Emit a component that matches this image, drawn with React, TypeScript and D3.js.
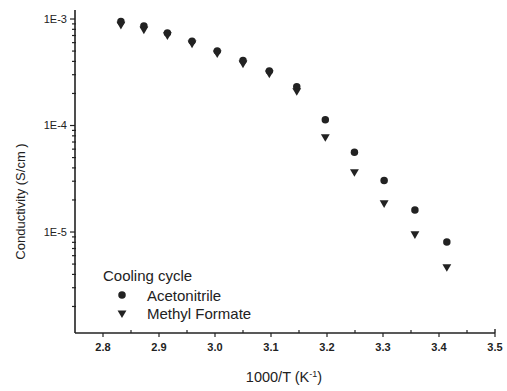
import React from 'react';
import * as d3 from 'd3';

// 1000/T values (K^-1)
const invTemp = [2.832, 2.873, 2.915, 2.959, 3.004, 3.05, 3.097, 3.146, 3.197, 3.249, 3.302, 3.357, 3.414];
// conductivity (S/cm), cooling cycle
const acetonitrile = [9.5e-4, 8.6e-4, 7.4e-4, 6.2e-4, 5.0e-4, 4.07e-4, 3.25e-4, 2.31e-4, 1.13e-4, 5.6e-5, 3.05e-5, 1.61e-5, 8.05e-6];
const methylFormate = [8.9e-4, 8.05e-4, 7.1e-4, 5.95e-4, 4.8e-4, 3.86e-4, 3.1e-4, 2.12e-4, 7.85e-5, 3.68e-5, 1.88e-5, 9.6e-6, 4.72e-6];
const xTicks = [2.8, 2.9, 3.0, 3.1, 3.2, 3.3, 3.4, 3.5];
const xMinorTicks = [2.85, 2.95, 3.05, 3.15, 3.25, 3.35, 3.45];
const yTicks = [1e-3, 1e-4, 1e-5];
const yTickLabels = ['1E-3', '1E-4', '1E-5'];

const W = 507;
const H = 391;
const margin = {top: 10, right: 12, bottom: 58, left: 75};
const ink = '#222';
const font = 'Liberation Sans, Arial, sans-serif';

const App: React.FC = () => {
  const x = d3.scaleLinear().domain([2.75, 3.5]).range([margin.left, W - margin.right]);
  const y = d3.scaleLog().domain([1.127e-6, 1.215e-3]).range([H - margin.bottom, margin.top]);

  const circle = d3.symbol(d3.symbolCircle, 44)();
  const tri = d3.symbol(d3.symbolTriangle, 34)();

  // minor log ticks 2..9 for each decade inside domain
  const yMinor: number[] = [];
  [-6, -5, -4, -3].forEach((e) => {
    for (let m = 2; m <= 9; m++) {
      const v = m * Math.pow(10, e);
      const [lo, hi] = y.domain();
      if (v > lo && v < hi) yMinor.push(v);
    }
  });

  const x0 = margin.left;
  const yBase = H - margin.bottom;

  return (
    <svg width={W} height={H} style={{position: 'absolute', left: 0, top: 0, background: '#fff'}} fontFamily={font}>
      {/* axes */}
      <line x1={x0} x2={x0} y1={margin.top} y2={yBase} stroke={ink} strokeWidth={1.6} />
      <line x1={x0} x2={W - margin.right} y1={yBase} y2={yBase} stroke={ink} strokeWidth={1.6} />
      <line x1={W - margin.right} x2={W - margin.right} y1={yBase} y2={yBase - 4} stroke={ink} strokeWidth={1.4} />

      {xTicks.map((t) => (
        <g key={t} transform={`translate(${x(t)},${yBase})`}>
          <line y1={0} y2={4} stroke={ink} strokeWidth={1.2} />
          <text y={18} textAnchor='middle' fontSize={11} fontWeight='bold' fill={ink}>
            {t.toFixed(1)}
          </text>
        </g>
      ))}
      {xMinorTicks.map((t) => (
        <line key={t} x1={x(t)} x2={x(t)} y1={yBase} y2={yBase - 3} stroke={ink} strokeWidth={1.2} />
      ))}

      {yTicks.map((t, i) => (
        <g key={t} transform={`translate(${x0},${y(t)})`}>
          <line x1={0} x2={-5} stroke={ink} strokeWidth={1.2} />
          <text x={-8} dy='0.35em' textAnchor='end' fontSize={11} fill={ink}>
            {yTickLabels[i]}
          </text>
        </g>
      ))}
      {yMinor.map((t) => (
        <line key={t} x1={x0 - 3} x2={x0 + 1} y1={y(t)} y2={y(t)} stroke={ink} strokeWidth={1.2} />
      ))}

      {/* axis titles */}
      <text x={x(3.125) - 1} y={382} textAnchor='middle' fontSize={14.5} fill={ink}>
        1000/T (K<tspan baselineShift='super' fontSize={9}>-1</tspan>)
      </text>
      <text
        transform={`translate(25,${(margin.top + yBase) / 2 + 30}) rotate(-90)`}
        textAnchor='middle'
        fontSize={13}
        fill={ink}
      >
        Conductivity (S/cm )
      </text>

      {/* data */}
      {invTemp.map((v, i) => (
        <path key={'a' + i} d={circle} transform={`translate(${x(v)},${y(acetonitrile[i])})`} fill={ink} />
      ))}
      {invTemp.map((v, i) => (
        <path key={'m' + i} d={tri} transform={`translate(${x(v)},${y(methylFormate[i])}) rotate(180)`} fill={ink} />
      ))}

      {/* legend */}
      <text x={103} y={281} fontSize={15} fill={ink}>Cooling cycle</text>
      <path d={circle} transform='translate(122,295)' fill={ink} />
      <text x={147} y={300.5} fontSize={15} fill={ink}>Acetonitrile</text>
      <path d={tri} transform='translate(122,313) rotate(180)' fill={ink} />
      <text x={147} y={318.5} fontSize={15} fill={ink}>Methyl Formate</text>
    </svg>
  );
};

export default App;
